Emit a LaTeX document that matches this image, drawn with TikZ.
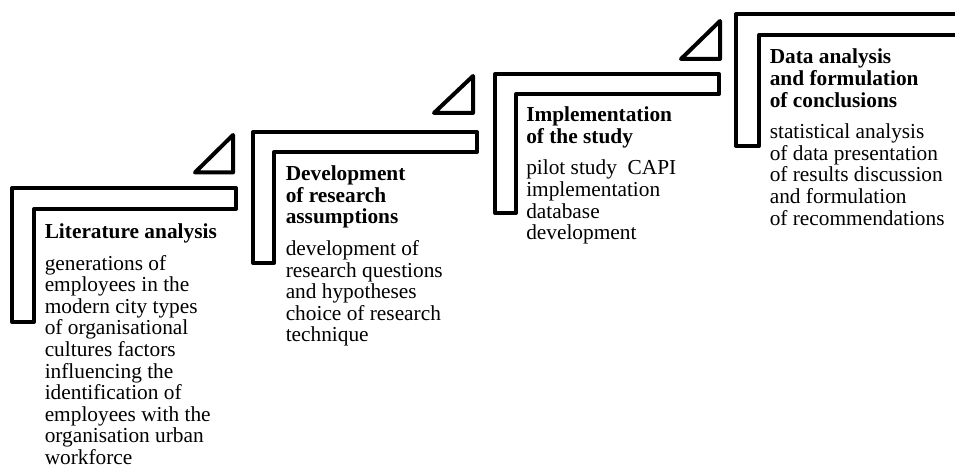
\documentclass[tikz,border=0pt]{standalone}
\usepackage{fontspec}
\setmainfont{Liberation Serif}
\begin{document}
\begin{tikzpicture}[x=0.75pt,y=-0.75pt,
  stair/.style={draw=black,line width=3pt,line join=round},
  stairtext/.style={anchor=base west,inner sep=0pt,font=\fontsize{16}{16.2}\selectfont}]
\path[clip,use as bounding box] (0,0) rectangle (955,470);
% step 1
\draw[stair] (12,322) -- (12,188) -- (236,188) -- (236,209) -- (34,209) -- (34,322) -- cycle;
\draw[stair] (195,172.5) -- (233,172.5) -- (233,135) -- cycle;
% step 2
\draw[stair] (253,263) -- (253,132) -- (477,132) -- (477,152) -- (274,152) -- (274,263) -- cycle;
\draw[stair] (434,113) -- (473,113) -- (473,76) -- cycle;
% step 3
\draw[stair] (495,213) -- (495,74) -- (719,74) -- (719,94) -- (516,94) -- (516,213) -- cycle;
\draw[stair] (681,59) -- (720,59) -- (720,21) -- cycle;
% step 4
\draw[stair] (736,146) -- (736,14) -- (975,14) -- (975,35) -- (759,35) -- (759,146) -- cycle;
% texts
\node[stairtext] (t1) at (44.5,238.5) {\parbox[t]{250pt}{\raggedright\textbf{Literature analysis}\par\vspace{7.5pt}generations of\\employees in the\\modern city types\\of organisational\\cultures factors\\influencing the\\identification of\\employees with the\\organisation urban\\workforce}};
\node[stairtext] (t2) at (285.5,180.7) {\parbox[t]{250pt}{\raggedright\textbf{Development\\of research\\assumptions}\par\vspace{7.5pt}development of\\research questions\\and hypotheses\\choice of research\\technique}};
\node[stairtext] (t3) at (526,121.7) {\parbox[t]{250pt}{\raggedright\textbf{Implementation\\of the study}\par\vspace{7.5pt}pilot study\ \ CAPI\\implementation\\database\\development}};
\node[stairtext] (t4) at (769.5,64) {\parbox[t]{250pt}{\raggedright\textbf{Data analysis\\and formulation\\of conclusions}\par\vspace{7.5pt}statistical analysis\\of data presentation\\of results discussion\\and formulation\\of recommendations}};
\end{tikzpicture}
\end{document}
